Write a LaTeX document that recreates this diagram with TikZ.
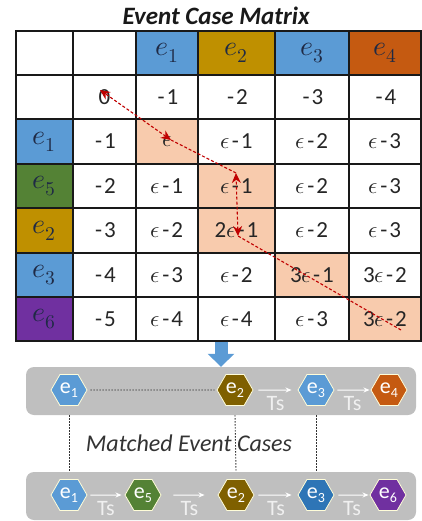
\documentclass[tikz,border=0pt]{standalone}
\usepackage{fontspec}
\usepackage{unicode-math}
\setmainfont{Carlito}
\setmathfont{Latin Modern Math}
\usetikzlibrary{arrows.meta, shapes.geometric, positioning}

\definecolor{hdblue}{HTML}{5B9BD5}
\definecolor{hdgold}{HTML}{BF9000}
\definecolor{hdorange}{HTML}{C55A11}
\definecolor{hdgreen}{HTML}{548235}
\definecolor{hdpurple}{HTML}{7030A0}
\definecolor{peach}{HTML}{F8CBAD}
\definecolor{panelgray}{HTML}{BFBFBF}
\definecolor{hxbrown}{HTML}{7F6000}
\definecolor{hxblue}{HTML}{2E75B6}
\definecolor{tracered}{HTML}{C00000}
\definecolor{navytext}{HTML}{1F2A45}

% column and row edges of the matrix
\def\matcolx{{16,73,136,198,275,349,421}}
\def\matrowy{{31,75,119,164,208,253,297,341}}
\newcommand\hy{\kern2pt-\kern2pt}
\newcommand\hd[1]{\textcolor{navytext}{\fontsize{28}{30}\selectfont$e_{#1}$}}
\newcommand\hx[1]{e\raisebox{-3.5pt}{\fontsize{14}{14}\selectfont #1}}
\newcommand\cell[4]{%
  \pgfmathsetmacro\xl{\matcolx[#2]}%
  \pgfmathsetmacro\xr{\matcolx[#2+1]}%
  \pgfmathsetmacro\yt{\matrowy[#1]}%
  \pgfmathsetmacro\yb{\matrowy[#1+1]}%
  \node[cellbox, fill=#3, minimum width={(\xr-\xl)*1pt},
        minimum height={(\yb-\yt)*1pt}] (c#1#2) at ({(\xl+\xr)/2},{(\yt+\yb)/2}) {#4};}

\begin{document}
\begin{tikzpicture}[
    x=1pt, y=-1pt,
    % --- Style Definitions ---
    cellbox/.style={
        rectangle, draw=black!90, line width=1.3pt, inner sep=0pt,
        text=black!85, font=\fontsize{23}{26}\selectfont
    },
    hexnode/.style={
        regular polygon, regular polygon sides=6, minimum size=36pt,
        inner sep=0pt, fill=#1, draw=white!85!yellow, line width=0.8pt,
        text=white, font=\fontsize{22}{22}\selectfont
    },
    panel/.style={
        rectangle, rounded corners=8pt, fill=panelgray,
        minimum width=390pt, minimum height=48pt
    },
    tracearrow/.style={
        draw=tracered, line width=1.1pt, dash pattern=on 3pt off 2pt,
        >={Stealth[length=10pt,width=9pt]}
    },
    tsarrow/.style={
        draw=white, line width=1pt, -{Stealth[length=6pt,width=5pt]}
    },
    tslabel/.style={
        midway, yshift=-14pt, text=white!88!gray,
        font=\fontsize{22}{22}\selectfont
    },
    linkline/.style={
        draw=black!80, line width=0.9pt, dash pattern=on 1.5pt off 1.5pt
    },
    bigarrow/.style={
        draw=hdblue, line width=13pt, -{Triangle[length=13pt,width=26pt]}
    }
]
\useasboundingbox (0,0) rectangle (421,521);

% ================= Title =================
\node[font=\bfseries\itshape\fontsize{25}{28}\selectfont, text=black!90] (title) at (216,16) {Event Case Matrix};

% ================= Matrix =================
\foreach \col/\fc/\txt in {0/white/{},1/white/{},2/hdblue/{\hd1},3/hdgold/{\hd2},4/hdblue/{\hd3},5/hdorange/{\hd4}}
  {\cell{0}{\col}{\fc}{\txt}}
\foreach \col/\fc/\txt in {0/white/{},1/white/0,2/white/{\hy1},3/white/{\hy2},4/white/{\hy3},5/white/{\hy4}}
  {\cell{1}{\col}{\fc}{\txt}}
\foreach \col/\fc/\txt in {0/hdblue/{\hd1},1/white/{\hy1},2/peach/{$\epsilon$},3/white/{$\epsilon$\hy1},4/white/{$\epsilon$\hy2},5/white/{$\epsilon$\hy3}}
  {\cell{2}{\col}{\fc}{\txt}}
\foreach \col/\fc/\txt in {0/hdgreen/{\hd5},1/white/{\hy2},2/white/{$\epsilon$\hy1},3/peach/{$\epsilon$\hy1},4/white/{$\epsilon$\hy2},5/white/{$\epsilon$\hy3}}
  {\cell{3}{\col}{\fc}{\txt}}
\foreach \col/\fc/\txt in {0/hdgold/{\hd2},1/white/{\hy3},2/white/{$\epsilon$\hy2},3/peach/{2$\epsilon$\hy1},4/white/{$\epsilon$\hy2},5/white/{$\epsilon$\hy3}}
  {\cell{4}{\col}{\fc}{\txt}}
\foreach \col/\fc/\txt in {0/hdblue/{\hd3},1/white/{\hy4},2/white/{$\epsilon$\hy3},3/white/{$\epsilon$\hy2},4/peach/{3$\epsilon$\hy1},5/white/{3$\epsilon$\hy2}}
  {\cell{5}{\col}{\fc}{\txt}}
\foreach \col/\fc/\txt in {0/hdpurple/{\hd6},1/white/{\hy5},2/white/{$\epsilon$\hy4},3/white/{$\epsilon$\hy4},4/white/{$\epsilon$\hy3},5/peach/{3$\epsilon$\hy2}}
  {\cell{6}{\col}{\fc}{\txt}}

% ================= Traceback path =================
\coordinate (tb0) at (100,90);
\coordinate (tb1) at (171,140);
\coordinate (tb2) at (236,173);
\coordinate (tb3) at (238,236);
\coordinate (tb4) at (401,330);
\draw[tracearrow, <->] (tb1) -- (tb0);
\draw[tracearrow] (tb2) -- (tb1);
\draw[tracearrow, <->] (tb3) -- (tb2);
\draw[tracearrow] (tb4) -- (tb3);

% ================= Panels =================
\node[panel] (toppanel) at (221,391) {};
\node[panel] (botpanel) at (221,496) {};
\draw[bigarrow] (toppanel.north |- c63.south) -- (toppanel.north);

% top sequence
\node[hexnode=hdblue] (te1) at (69,390) {\hx{1}};
\node[hexnode=hxbrown] (te2) at (235,390) {\hx{2}};
\node[hexnode=hdblue] (te3) at (316,390) {\hx{3}};
\node[hexnode=hdorange] (te4) at (389,390) {\hx{4}};

% bottom sequence
\node[hexnode=hdblue] (be1) at (69,495) {\hx{1}};
\node[hexnode=hdgreen] (be5) at (143,495) {\hx{5}};
\node[hexnode=hxbrown] (be2) at (236,495) {\hx{2}};
\node[hexnode=hxblue] (be3) at (316,495) {\hx{3}};
\node[hexnode=hdpurple] (be6) at (388,495) {\hx{6}};

\node[font=\itshape\fontsize{24}{28}\selectfont, text=black!80] (matched) at (189,443) {Matched Event Cases};

% ================= Connections =================
\draw[linkline, shorten <=3pt, shorten >=2pt] (te1) -- (te2);
\draw[tsarrow, shorten <=5pt, shorten >=6pt] (te2) -- node[tslabel] {Ts} (te3);
\draw[tsarrow, shorten <=3pt, shorten >=1pt] (te3) -- node[tslabel] {Ts} (te4);

\draw[tsarrow, shorten <=3pt, shorten >=3pt] (be1) -- node[tslabel] {Ts} (be5);
\draw[tsarrow, shorten <=12pt, shorten >=13pt] (be5) -- node[tslabel] {Ts} (be2);
\draw[tsarrow, shorten <=4pt, shorten >=6pt] (be2) -- node[tslabel] {Ts} (be3);
\draw[tsarrow, shorten <=4pt, shorten >=1pt] (be3) -- node[tslabel] {Ts} (be6);

% matched pairs
\draw[linkline] (te1 |- toppanel.south) -- (be1 |- botpanel.north);
\draw[linkline] (te2 |- toppanel.south) -- (be2 |- botpanel.north);
\draw[linkline] (te3 |- toppanel.south) -- (be3 |- botpanel.north);

\end{tikzpicture}
\end{document}
